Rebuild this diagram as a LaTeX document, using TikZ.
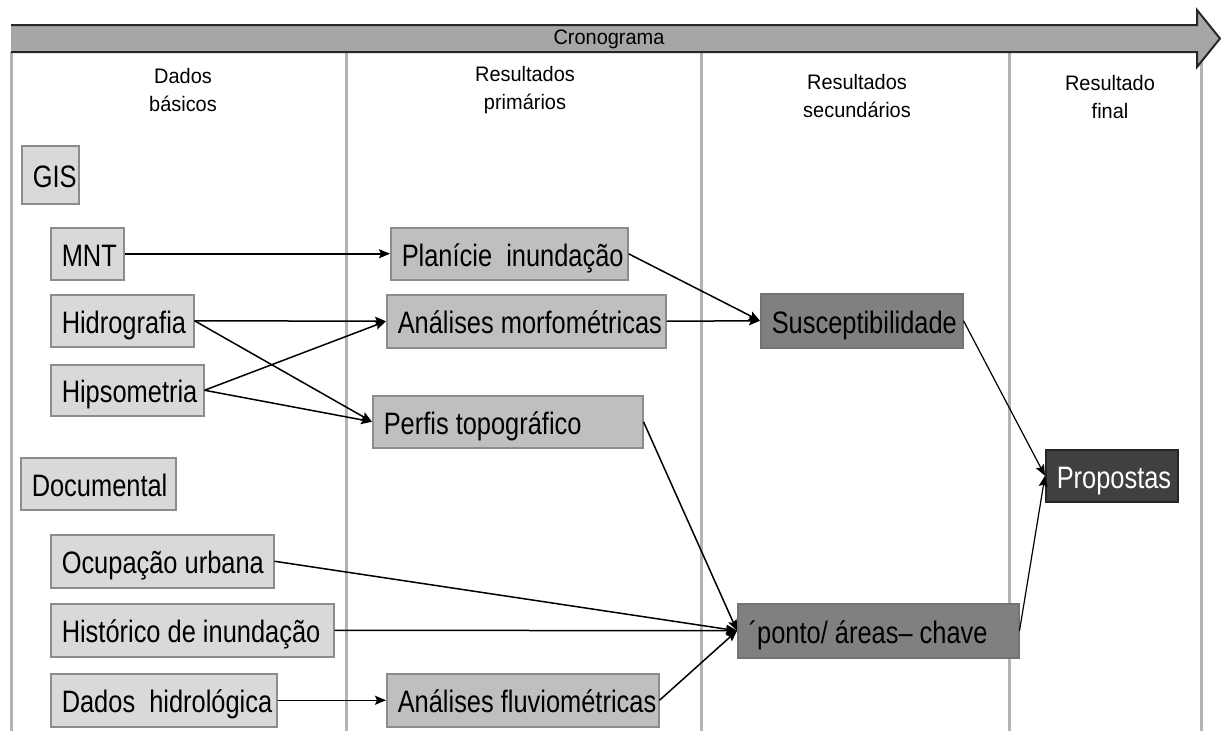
\documentclass[tikz,border=0pt]{standalone}
\usepackage{fontspec}
\setmainfont{Liberation Sans}[FakeStretch=0.82]
\newfontfamily\hdrfont{Liberation Sans}[FakeStretch=0.95]
\usetikzlibrary{arrows.meta}
\definecolor{dataFill}{HTML}{D9D9D9}
\definecolor{primFill}{HTML}{BFBFBF}
\definecolor{secFill}{HTML}{808080}
\definecolor{finFill}{HTML}{404040}
\definecolor{boxLine}{HTML}{8C8C8C}
\definecolor{colLine}{HTML}{B3B3B3}
\definecolor{barFill}{HTML}{A6A6A6}
\definecolor{barLine}{HTML}{262626}
\newcommand\bx[7]{\node[#1,anchor=north west,minimum height=#6pt] (#2) at (#3,#4) {\makebox[\dimexpr #5pt-22pt\relax][l]{#7}};}
\tikzset{
  basebox/.style={inner xsep=11pt,inner ysep=0pt,line width=1.5pt,text height=31pt,text depth=6pt,font=\fontsize{31}{36}\selectfont},
  databox/.style={basebox,fill=dataFill,draw=boxLine},
  primbox/.style={basebox,fill=primFill,draw=boxLine},
  secbox/.style={basebox,fill=secFill,draw=secFill!90!black},
  finbox/.style={basebox,fill=finFill,draw=barLine,text=white},
  colline/.style={draw=colLine,line width=3pt},
  hdr/.style={align=center,font=\hdrfont\fontsize{21}{28}\selectfont},
  conn/.style={draw=black,line width=1.5pt,-{Stealth[length=11pt,width=9pt,inset=2pt]}},
  thinconn/.style={draw=black,line width=1.2pt,-{Stealth[length=11pt,width=9pt,inset=2pt]}}
}
\begin{document}
\begin{tikzpicture}[x=1pt,y=-1pt]
\useasboundingbox (0,0) rectangle (1221,731);
% column lines
\foreach \cx in {11,346,701,1009,1201}{\draw[colline] (\cx,52) -- (\cx,731);}
% header arrow
\fill[barFill] (11,25) -- (1197,25) -- (1197,10) -- (1220,38.5) -- (1197,67) -- (1197,52) -- (11,52) -- cycle;
\draw[barLine,line width=2pt,line join=miter] (11,25) -- (1197,25) -- (1197,10) -- (1220,38.5) -- (1197,67) -- (1197,52) -- (11,52);
\node[hdr] (crono) at (609,39) {Cronograma};
% column headers
\node[hdr] (h1) at (183,90) {Dados\\básicos};
\node[hdr] (h2) at (525,90) {Resultados\\primários};
\node[hdr] (h3) at (857,96) {Resultados\\secundários};
\node[hdr] (h4) at (1110,97) {Resultado\\final};
% boxes
\bx{databox}{gis}{21}{145}{57}{58}{GIS}
\bx{databox}{mnt}{50}{227}{73}{52}{MNT}
\bx{databox}{hidro}{50}{294}{143}{52}{Hidrografia}
\bx{databox}{hipso}{50}{364}{153}{51}{Hipsometria}
\bx{databox}{docu}{20}{457}{155}{52}{Documental}
\bx{databox}{ocup}{50}{534}{223}{53}{Ocupação urbana}
\bx{databox}{hist}{50}{603}{283}{53}{Histórico de inundação}
\bx{databox}{dhid}{50}{673}{226}{53}{Dados\ \ hidrológica}
\bx{primbox}{plan}{390}{227}{237}{52}{Planície\ \ inundação}
\bx{primbox}{morf}{386}{294}{279}{53}{Análises morfométricas}
\bx{primbox}{perf}{372}{395}{270}{52}{Perfis topográfico}
\bx{primbox}{fluv}{386}{673}{272}{53}{Análises fluviométricas}
\bx{secbox}{susc}{760}{293}{202}{54}{Susceptibilidade}
\bx{secbox}{pont}{737}{603}{281}{54}{´ponto/ áreas– chave}
\bx{finbox}{prop}{1045}{449}{132}{52}{Propostas}
% connectors
\draw[conn] (mnt.east) -- (plan.west);
\draw[conn] (hidro.east) -- (morf.west);
\draw[conn] (hidro.east) -- (perf.west);
\draw[conn] (hipso.east) -- (morf.west);
\draw[conn] (hipso.east) -- (perf.west);
\draw[conn] (plan.east) -- (susc.west);
\draw[conn] (morf.east) -- (susc.west);
\draw[conn] (perf.east) -- (pont.west);
\draw[conn] (ocup.east) -- (pont.west);
\draw[conn] (hist.east) -- (pont.west);
\draw[conn] (fluv.east) -- (pont.west);
\draw[conn] (dhid.east) -- (fluv.west);
\draw[thinconn] (susc.east) -- (prop.west);
\draw[thinconn] (pont.east) -- (prop.west);
\end{tikzpicture}
\end{document}
